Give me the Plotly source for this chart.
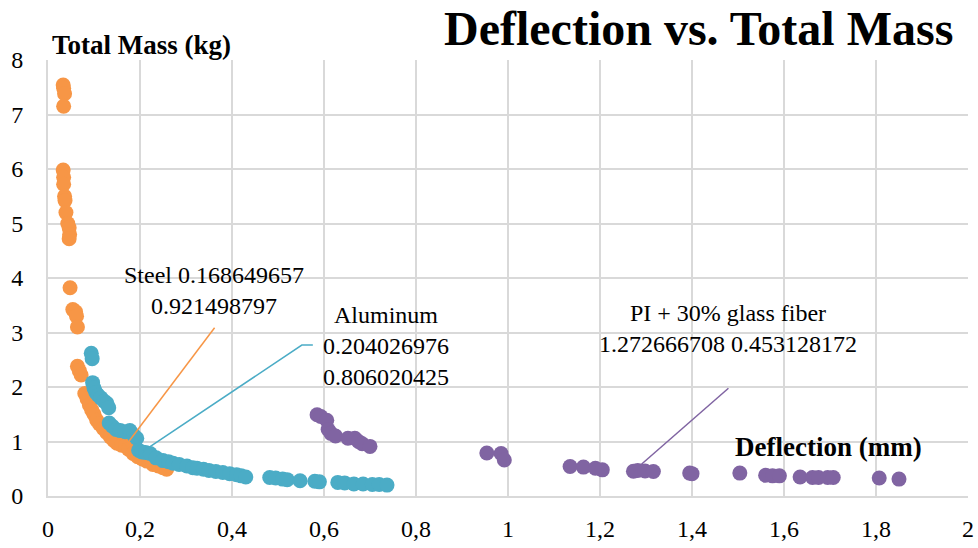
import plotly.graph_objects as go

# ---- data ----
steel_x = [0.033, 0.034, 0.036, 0.034,
           0.033, 0.034, 0.034, 0.036, 0.037, 0.039, 0.043, 0.046, 0.047, 0.046,
           0.048, 0.054, 0.060, 0.062, 0.064,
           0.064, 0.068, 0.072,
           0.080, 0.085, 0.090, 0.095, 0.100, 0.106, 0.112, 0.120, 0.128, 0.136,
           0.143, 0.150, 0.160, 0.168649657, 0.175, 0.185, 0.195, 0.205, 0.215,
           0.228, 0.240, 0.250, 0.258]
steel_y = [7.54, 7.48, 7.38, 7.15,
           5.98, 5.85, 5.72, 5.50, 5.42, 5.20, 5.00, 4.92, 4.80, 4.72,
           3.82, 3.42, 3.38, 3.30, 3.10,
           2.38, 2.30, 2.22,
           1.88, 1.78, 1.67, 1.58, 1.50, 1.39, 1.32, 1.24, 1.16, 1.08,
           1.02, 0.97, 0.93, 0.921498797, 0.86, 0.78, 0.72, 0.68, 0.64,
           0.58, 0.55, 0.52, 0.49]

alu_x = [0.094, 0.096, 0.097, 0.100, 0.104, 0.109, 0.115, 0.122, 0.128, 0.132,
         0.133, 0.140, 0.148, 0.157, 0.168, 0.178, 0.186, 0.193,
         0.197, 0.204026976, 0.212, 0.222,
         0.235, 0.250, 0.262, 0.272, 0.285, 0.302, 0.315, 0.324, 0.338, 0.350,
         0.365, 0.380, 0.395, 0.410, 0.420, 0.430,
         0.482, 0.495, 0.510, 0.520, 0.548, 0.580, 0.590, 0.630, 0.645, 0.665,
         0.685, 0.705, 0.720, 0.737]
alu_y = [2.62, 2.52, 2.08, 1.98, 1.90, 1.85, 1.80, 1.74, 1.70, 1.62,
         1.34, 1.28, 1.22, 1.20, 1.18, 1.20, 1.12, 1.06,
         0.84, 0.806020425, 0.80, 0.78,
         0.70, 0.65, 0.63, 0.60, 0.58, 0.55, 0.52, 0.51, 0.49, 0.47,
         0.45, 0.43, 0.41, 0.39, 0.37, 0.35,
         0.34, 0.33, 0.31, 0.30, 0.28, 0.27, 0.26, 0.25, 0.24, 0.22,
         0.22, 0.21, 0.21, 0.20]

pi_x = [0.585, 0.593, 0.606, 0.609, 0.615, 0.625, 0.652, 0.667, 0.675, 0.683, 0.700,
        0.954, 0.985, 0.992,
        1.135, 1.164, 1.190, 1.205,
        1.282, 1.272666708, 1.298, 1.316,
        1.395, 1.400, 1.504,
        1.560, 1.575, 1.590, 1.635, 1.662, 1.675, 1.695, 1.707,
        1.807, 1.850]
pi_y = [1.49, 1.46, 1.39, 1.22, 1.15, 1.10, 1.06, 1.06, 1.00, 0.96, 0.91,
        0.79, 0.78, 0.66,
        0.54, 0.53, 0.51, 0.48,
        0.47, 0.453128172, 0.46, 0.45,
        0.42, 0.41, 0.42,
        0.38, 0.37, 0.37, 0.35, 0.34, 0.34, 0.34, 0.34,
        0.33, 0.31]

x_tickvals = [0, 0.2, 0.4, 0.6, 0.8, 1, 1.2, 1.4, 1.6, 1.8, 2]
x_ticktext = ["0", "0,2", "0,4", "0,6", "0,8", "1", "1,2", "1,4", "1,6", "1,8", "2"]
y_tickvals = [0, 1, 2, 3, 4, 5, 6, 7, 8]
y_ticktext = ["0", "1", "2", "3", "4", "5", "6", "7", "8"]

steel_label = ("Steel", 0.168649657, 0.921498797)
alu_label = ("Aluminum", 0.204026976, 0.806020425)
pi_label = ("PI + 30% glass fiber", 1.272666708, 0.453128172)

C_STEEL = "#F79646"
C_ALU = "#4BACC6"
C_PI = "#8064A2"
FONT = "'Liberation Serif', 'DejaVu Serif', serif"

fig = go.Figure()
for xs, ys, c, name in [(steel_x, steel_y, C_STEEL, "Steel"),
                        (alu_x, alu_y, C_ALU, "Aluminum"),
                        (pi_x, pi_y, C_PI, "PI + 30% glass fiber")]:
    fig.add_trace(go.Scatter(x=xs, y=ys, mode="markers", name=name,
                             marker=dict(color=c, size=15, line=dict(width=0))))

# leader lines (pixel offsets from the labelled data point)
def leader(px, py, path, color):
    fig.add_shape(type="path", xref="x", yref="y", xsizemode="pixel", ysizemode="pixel",
                  xanchor=px, yanchor=py, path=path,
                  line=dict(color=color, width=1.5), layer="above")

leader(steel_label[1], steel_label[2], "M0,0 L89,118", C_STEEL)
leader(alu_label[1], alu_label[2], "M0,0 L160,107 L171,107", C_ALU)
leader(pi_label[1], pi_label[2], "M0,0 L95,83", C_PI)

lab_font = dict(family=FONT, size=24, color="#000000")
fig.add_annotation(x=steel_label[1], y=steel_label[2], xref="x", yref="y",
                   text=f"{steel_label[0]} {steel_label[1]:.9f}<br>{steel_label[2]:.9f}",
                   showarrow=False, xshift=88, yshift=155, font=lab_font, align="center")
fig.add_annotation(x=alu_label[1], y=alu_label[2], xref="x", yref="y",
                   text=f"{alu_label[0]}<br>{alu_label[1]:.9f}<br>{alu_label[2]:.9f}",
                   showarrow=False, xshift=244, yshift=106, font=lab_font, align="center")
fig.add_annotation(x=pi_label[1], y=pi_label[2], xref="x", yref="y",
                   text=f"{pi_label[0]}<br>{pi_label[1]:.9f} {pi_label[2]:.9f}",
                   showarrow=False, xshift=95, yshift=143, font=lab_font, align="center")

# titles
fig.add_annotation(x=0.986, y=1.073, xref="paper", yref="paper", xanchor="right", yanchor="middle",
                   text="<b>Deflection vs. Total Mass</b>", showarrow=False,
                   font=dict(family=FONT, size=48, color="#000000"))
fig.add_annotation(x=0.002, y=1.034, xref="paper", yref="paper", xanchor="left", yanchor="middle",
                   text="<b>Total Mass (kg)</b>", showarrow=False,
                   font=dict(family=FONT, size=27, color="#000000"))
fig.add_annotation(x=0.848, y=0.112, xref="paper", yref="paper", xanchor="center", yanchor="middle",
                   text="<b>Deflection (mm)</b>", showarrow=False,
                   font=dict(family=FONT, size=27, color="#000000"))

fig.update_layout(
    width=978, height=548,
    margin=dict(l=48, r=10, t=60, b=52, autoexpand=False),
    paper_bgcolor="white", plot_bgcolor="white",
    showlegend=False,
    font=dict(family=FONT, size=24, color="#000000"),
)
fig.update_xaxes(range=[0, 2], tickvals=x_tickvals, ticktext=x_ticktext,
                 showgrid=True, gridcolor="#D9D9D9", gridwidth=2,
                 zeroline=False, showline=True, linecolor="#D9D9D9", linewidth=2,
                 ticks="", ticklabelstandoff=10, automargin=False,
                 tickfont=dict(family=FONT, size=24))
fig.update_yaxes(range=[0, 8], tickvals=y_tickvals, ticktext=y_ticktext,
                 showgrid=True, gridcolor="#D9D9D9", gridwidth=2,
                 zeroline=False, showline=True, linecolor="#D9D9D9", linewidth=2,
                 ticks="", ticklabelstandoff=18, automargin=False,
                 tickfont=dict(family=FONT, size=24))

fig.write_html("out.html", config={"displayModeBar": False},
               post_script="document.body.style.margin='0';document.body.style.overflow='hidden';")
